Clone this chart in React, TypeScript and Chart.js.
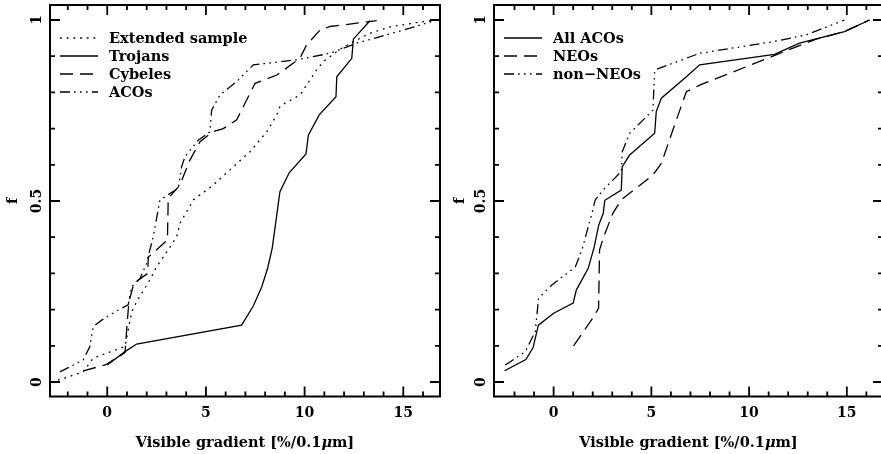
import React, { useEffect, useRef } from "react";
import { Chart, registerables } from "chart.js";
Chart.register(...registerables);

// ---------- Left panel data ----------
const extX = [-2.5, -1.22, -0.71, 0.9, 1.24, 1.49, 2.16, 2.5, 3.09, 3.52, 3.68, 4.36, 5.37, 6.22, 7.23, 8.08, 8.59, 8.75, 9.0, 9.77, 10.27, 10.61, 10.95, 11.79, 12.47, 13.3, 14.34, 15.68, 16.7];
const extY = [0.005, 0.028, 0.066, 0.098, 0.194, 0.222, 0.282, 0.318, 0.365, 0.401, 0.438, 0.503, 0.544, 0.586, 0.636, 0.691, 0.738, 0.761, 0.77, 0.793, 0.834, 0.862, 0.885, 0.919, 0.94, 0.963, 0.981, 0.993, 1.0];

const trojX = [0, 0.9, 1.49, 6.81, 7.4, 7.83, 8.13, 8.36, 8.75, 9.22, 10.07, 10.19, 10.74, 11.59, 11.63, 12.39, 12.47, 13.31];
const trojY = [0.047, 0.084, 0.105, 0.157, 0.21, 0.263, 0.315, 0.37, 0.526, 0.578, 0.63, 0.682, 0.738, 0.788, 0.843, 0.894, 0.947, 0.998];

const cybX = [-1.22, -0.1, 0.9, 1.02, 1.1, 1.35, 2.05, 2.08, 3.05, 3.09, 3.68, 4.19, 4.7, 5.37, 5.88, 6.56, 6.98, 7.49, 8.59, 9.76, 10.1, 10.78, 11.29, 13.65];
const cybY = [0.031, 0.047, 0.081, 0.171, 0.222, 0.273, 0.3, 0.345, 0.392, 0.507, 0.544, 0.613, 0.664, 0.692, 0.7, 0.724, 0.77, 0.825, 0.848, 0.894, 0.931, 0.972, 0.982, 0.998];

const acoX = [-2.4, -1.22, -0.88, -0.71, -0.28, 0.56, 1.06, 1.24, 1.66, 2.0, 2.16, 2.33, 2.67, 3.6, 3.77, 3.94, 4.61, 5.2, 5.29, 5.71, 6.56, 7.4, 9.6, 11.29, 12.64, 15.0, 16.7];
const acoY = [0.028, 0.061, 0.098, 0.153, 0.171, 0.199, 0.213, 0.263, 0.286, 0.328, 0.365, 0.401, 0.503, 0.535, 0.595, 0.622, 0.668, 0.691, 0.751, 0.793, 0.83, 0.876, 0.89, 0.908, 0.936, 0.972, 1.0];

// ---------- Right panel data ----------
const allX = [-2.51, -1.42, -1.05, -0.78, 0, 1.0, 1.16, 1.77, 2.07, 2.31, 2.54, 2.62, 3.46, 3.51, 3.89, 5.17, 5.25, 5.51, 6.79, 7.47, 11.3, 12.58, 14.88, 16.16];
const allY = [0.031, 0.062, 0.095, 0.157, 0.19, 0.218, 0.254, 0.314, 0.372, 0.434, 0.466, 0.502, 0.53, 0.595, 0.627, 0.687, 0.747, 0.784, 0.843, 0.876, 0.905, 0.936, 0.968, 1.0];

const neoX = [1.02, 2.05, 2.3, 2.35, 2.56, 3.03, 3.46, 5.08, 5.51, 6.19, 6.79, 7.47, 11.22, 12.41, 13.43, 14.88, 16.16];
const neoY = [0.1, 0.18, 0.204, 0.365, 0.401, 0.466, 0.503, 0.572, 0.604, 0.71, 0.802, 0.82, 0.9, 0.926, 0.947, 0.968, 1.0];

const nonX = [-2.47, -1.45, -0.94, -0.77, -0.09, 1.11, 1.45, 1.96, 2.13, 2.52, 3.46, 3.51, 3.89, 5.08, 5.17, 7.47, 11.22, 12.93, 14.88];
const nonY = [0.047, 0.084, 0.139, 0.231, 0.268, 0.318, 0.365, 0.466, 0.503, 0.53, 0.581, 0.636, 0.687, 0.751, 0.862, 0.908, 0.94, 0.959, 1.0];

// ---------- Axes ----------
const xMajorTicks = [0, 5, 10, 15];
const xMinorTicks = [-2, -1, 1, 2, 3, 4, 6, 7, 8, 9, 11, 12, 13, 14, 16];
const yMajorTicks = [0, 0.5, 1];
const yMajorLabels = ["0", "0.5", "1"];
const yMinorTicks = [0.1, 0.2, 0.3, 0.4, 0.6, 0.7, 0.8, 0.9];
const xTitleParts = [
  { text: "Visible gradient [%/0.1", italic: false },
  { text: "\u03bc", italic: true },
  { text: "m]", italic: false },
];
const yTitle = "f";

const DOTTED = [1.8, 4.9];
const SOLID: number[] = [];
const DASHED = [13, 7];
const DASHDOT3 = [10, 4, 1.6, 4.4, 1.6, 4.4, 1.6, 4.4];

const FONT = 'bold 14px "DejaVu Serif"';
const FONT_T = 'bold 14.5px "DejaVu Serif"';
const FONT_TI = 'italic bold 14.5px "DejaVu Serif"';

type Series = { label: string; xs: number[]; ys: number[]; dash: number[] };

const leftSeries: Series[] = [
  { label: "Extended sample", xs: extX, ys: extY, dash: DOTTED },
  { label: "Trojans", xs: trojX, ys: trojY, dash: SOLID },
  { label: "Cybeles", xs: cybX, ys: cybY, dash: DASHED },
  { label: "ACOs", xs: acoX, ys: acoY, dash: DASHDOT3 },
];
const rightSeries: Series[] = [
  { label: "All ACOs", xs: allX, ys: allY, dash: SOLID },
  { label: "NEOs", xs: neoX, ys: neoY, dash: DASHED },
  { label: "non\u2212NEOs", xs: nonX, ys: nonY, dash: DASHDOT3 },
];

type Panel = {
  series: Series[];
  padLeft: number;
  padRight: number;
  xMin: number;
  xMax: number;
  yLabelX: number;
  yTitleX: number;
};

const CW = 890;
const CH = 454;

function makePlugin(p: Panel) {
  return {
    id: "pgframe",
    afterDatasetsDraw(chart: any) {
      const { ctx, chartArea: a, scales } = chart;
      const xs = scales.x;
      const ys = scales.y;
      ctx.save();
      ctx.strokeStyle = "#000";
      ctx.fillStyle = "#000";
      ctx.setLineDash([]);
      ctx.lineWidth = 2;
      ctx.strokeRect(a.left, a.top, a.right - a.left, a.bottom - a.top);
      ctx.lineWidth = 1.8;
      const vt = (v: number, len: number) => {
        const px = xs.getPixelForValue(v);
        ctx.beginPath();
        ctx.moveTo(px, a.bottom);
        ctx.lineTo(px, a.bottom - len);
        ctx.moveTo(px, a.top);
        ctx.lineTo(px, a.top + len);
        ctx.stroke();
      };
      const ht = (v: number, len: number) => {
        const py = ys.getPixelForValue(v);
        ctx.beginPath();
        ctx.moveTo(a.left, py);
        ctx.lineTo(a.left + len, py);
        ctx.moveTo(a.right, py);
        ctx.lineTo(a.right - len, py);
        ctx.stroke();
      };
      xMajorTicks.forEach((v) => vt(v, 10));
      xMinorTicks.forEach((v) => vt(v, 5));
      yMajorTicks.forEach((v) => ht(v, 10));
      yMinorTicks.forEach((v) => ht(v, 5));

      ctx.font = FONT;
      ctx.textAlign = "center";
      ctx.textBaseline = "alphabetic";
      xMajorTicks.forEach((v) => {
        ctx.fillText(String(v), xs.getPixelForValue(v), a.bottom + 20);
      });

      // x title with italic mu
      ctx.textAlign = "left";
      const widths = xTitleParts.map((part) => {
        ctx.font = part.italic ? FONT_TI : FONT_T;
        return ctx.measureText(part.text).width;
      });
      const total = widths.reduce((s, w) => s + w, 0);
      let tx = (a.left + a.right) / 2 - total / 2;
      xTitleParts.forEach((part, i) => {
        ctx.font = part.italic ? FONT_TI : FONT_T;
        ctx.fillText(part.text, tx, a.bottom + 50);
        tx += widths[i];
      });

      ctx.font = FONT;
      ctx.textAlign = "center";
      yMajorTicks.forEach((v, i) => {
        const py = ys.getPixelForValue(v);
        ctx.save();
        ctx.translate(p.yLabelX, py);
        ctx.rotate(-Math.PI / 2);
        ctx.fillText(yMajorLabels[i], 0, 0);
        ctx.restore();
      });
      ctx.font = FONT_T;
      ctx.save();
      ctx.translate(p.yTitleX, (ys.getPixelForValue(0) + ys.getPixelForValue(1)) / 2);
      ctx.rotate(-Math.PI / 2);
      ctx.fillText(yTitle, 0, 0);
      ctx.restore();

      // legend
      ctx.textAlign = "left";
      ctx.font = FONT_T;
      p.series.forEach((s, i) => {
        const ry = a.top + 33 + i * 18;
        ctx.lineWidth = 1.3;
        ctx.setLineDash(s.dash);
        ctx.beginPath();
        ctx.moveTo(a.left + 10, ry);
        ctx.lineTo(a.left + 48, ry);
        ctx.stroke();
        ctx.setLineDash([]);
        ctx.fillText(s.label, a.left + 59, ry + 5);
      });
      ctx.restore();
    },
  };
}

function PanelChart({ panel }: { panel: Panel }) {
  const ref = useRef<HTMLCanvasElement | null>(null);
  useEffect(() => {
    if (!ref.current) return;
    const chart = new Chart(ref.current, {
      type: "line",
      data: {
        datasets: panel.series.map((s) => ({
          label: s.label,
          data: s.xs.map((x, i) => ({ x, y: s.ys[i] })),
          borderColor: "#000",
          borderWidth: 1.3,
          borderDash: s.dash,
          pointRadius: 0,
          tension: 0,
          fill: false,
        })),
      },
      options: {
        responsive: false,
        animation: false,
        events: [],
        layout: {
          padding: { left: panel.padLeft, right: panel.padRight, top: 5, bottom: CH - 396.5 },
        },
        scales: {
          x: { type: "linear", min: panel.xMin, max: panel.xMax, display: false },
          y: { type: "linear", min: -0.04, max: 1.0414, display: false },
        },
        plugins: { legend: { display: false }, tooltip: { enabled: false } },
      },
      plugins: [makePlugin(panel)],
    });
    return () => chart.destroy();
  }, [panel]);
  return (
    <canvas
      ref={ref}
      width={CW}
      height={CH}
      style={{ position: "absolute", left: 0, top: 0, width: CW, height: CH }}
    />
  );
}

const leftPanel: Panel = {
  series: leftSeries,
  padLeft: 50,
  padRight: CW - 440,
  xMin: -2.9,
  xMax: 16.86,
  yLabelX: 40.5,
  yTitleX: 16.5,
};
const rightPanel: Panel = {
  series: rightSeries,
  padLeft: 494,
  padRight: CW - 883,
  xMin: -3.05,
  xMax: 16.85,
  yLabelX: 484.5,
  yTitleX: 463.5,
};

export default function App() {
  return (
    <div
      style={{
        position: "fixed",
        left: 0,
        top: 0,
        width: 881,
        height: 454,
        overflow: "hidden",
        background: "#fff",
      }}
    >
      <PanelChart panel={leftPanel} />
      <PanelChart panel={rightPanel} />
    </div>
  );
}
